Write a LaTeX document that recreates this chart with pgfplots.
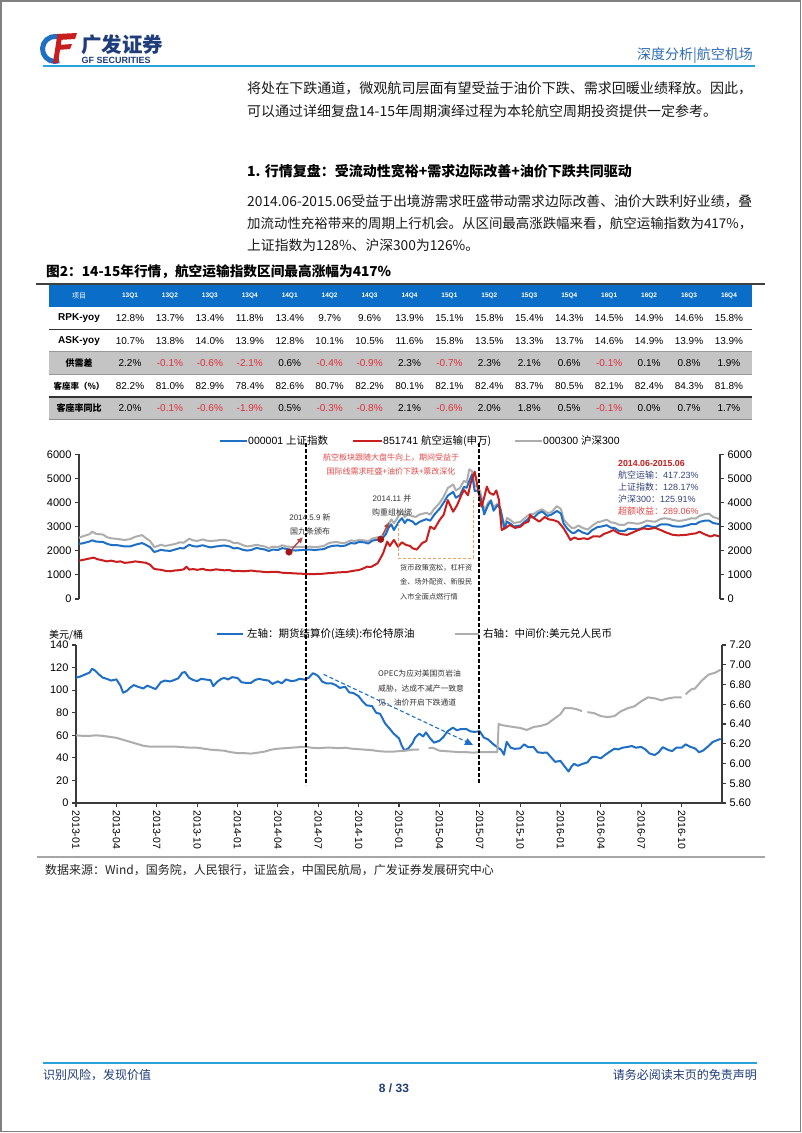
\documentclass[border=0pt]{standalone}
\usepackage{pgfplots}
\pgfplotsset{compat=1.18}
\usepackage{graphicx}
\usepackage{fontspec}
\setmainfont{Liberation Sans}
\newfontfamily\cjk{Noto Sans CJK SC}
\usetikzlibrary{arrows.meta}
\definecolor{gfblue}{HTML}{1F6FC5}
\definecolor{gfred}{HTML}{C81E1E}
\definecolor{gfgray}{HTML}{ADADAD}
\definecolor{axisc}{HTML}{3A3A3A}
\definecolor{hdrblue}{HTML}{0A6EC8}
\definecolor{rowgray}{HTML}{C4C4C4}
\definecolor{negred}{HTML}{E0303C}
\definecolor{navy}{HTML}{1F3D7A}
\definecolor{lineblue}{HTML}{2AA3DC}
\definecolor{hdtext}{HTML}{2F6DB0}
\definecolor{annred}{HTML}{E04848}
\definecolor{boxnavy}{HTML}{34437A}
\definecolor{dotred}{HTML}{A51515}
\definecolor{boxorange}{HTML}{F0A060}
\definecolor{arrowc}{HTML}{B04545}
\newcommand\fs[1]{\fontsize{#1}{#1}\selectfont}
\newcommand\negv[1]{\textcolor{negred}{#1}}
\pgfplotsset{gfax/.style={scale only axis, tick align=outside, major tick length=4pt,
  axis line style={axisc, line width=1.2pt, -}, tick style={axisc, line width=1.1pt},
  ticklabel style={font=\fs{11}, text=black},
  /pgf/number format/assume math mode=true, /pgf/number format/1000 sep={},
  scaled ticks=false}}
\begin{document}
\begin{tikzpicture}
\begin{scope}[x=1pt,y=-1pt]
\path[use as bounding box] (0,0) rectangle (802,1133);
\fill[white] (0,0) rectangle (802,1133);
\draw[black!50, line width=1.6pt] (1,1) rectangle (800.5,1131.5);
% logo
\draw[gfblue, line width=5pt] (59.3,60.7) arc[start angle=70, end angle=290, radius=12.5];
\fill[gfred] (57,34) -- (77,33) -- (75,39) -- (58.5,40) -- cycle;
\fill[gfred] (58,45) -- (72,44) -- (70,49) -- (57,50) -- cycle;
\fill[gfred] (57,37) -- (62,37) -- (58,63) -- (53,63) -- cycle;
\node[anchor=west, inner sep=0, text=navy] at (81,45) {\cjk\bfseries\fs{20.5}广发证券};
\node[anchor=west, inner sep=0, text=navy] at (81.5,60.5) {\bfseries\fs{9}GF SECURITIES};
\node[anchor=east, inner sep=0, text=hdtext] at (753,55) {\cjk\fs{14}深度分析|航空机场};
\draw[lineblue, line width=1.5pt] (43,66) -- (755,66);
% body text
\node[anchor=west, inner sep=0, text=black!90] at (247,88) {\resizebox{505pt}{!}{\cjk\fs{14}将处在下跌通道，微观航司层面有望受益于油价下跌、需求回暖业绩释放。因此，}};
\node[anchor=west, inner sep=0, text=black!90] at (247,111) {\cjk\fs{14}可以通过详细复盘14-15年周期演绎过程为本轮航空周期投资提供一定参考。};
\node[anchor=west, inner sep=0, text=black] at (247,171) {\cjk\bfseries\fs{14}1. 行情复盘：受流动性宽裕+需求边际改善+油价下跌共同驱动};
\node[anchor=west, inner sep=0, text=black!90] at (247,201) {\resizebox{505pt}{!}{\cjk\fs{14}2014.06-2015.06受益于出境游需求旺盛带动需求边际改善、油价大跌利好业绩，叠}};
\node[anchor=west, inner sep=0, text=black!90] at (247,223) {\resizebox{505pt}{!}{\cjk\fs{14}加流动性充裕带来的周期上行机会。从区间最高涨跌幅来看，航空运输指数为417\%，}};
\node[anchor=west, inner sep=0, text=black!90] at (247,245) {\resizebox{232pt}{!}{\cjk\fs{14}上证指数为128\%、沪深300为126\%。}};
\node[anchor=west, inner sep=0, text=black] at (46,272) {\resizebox{345pt}{!}{\cjk\bfseries\fs{14}图2：14-15年行情，航空运输指数区间最高涨幅为417\%}};
% table
\fill[hdrblue] (49,284) rectangle (752,307);
\fill[rowgray] (49,351.5) rectangle (752,374);
\fill[rowgray] (49,397) rectangle (752,419.5);
\draw[black!80, line width=1.3pt] (49,329.5)--(752,329.5);
\draw[black!40, line width=1pt] (49,351.5)--(752,351.5);
\draw[black!40, line width=1pt] (49,374)--(752,374);
\draw[black!80, line width=1.3pt] (49,397)--(752,397);
\draw[black!45, line width=1pt] (49,419.5)--(752,419.5);
\draw[black!75, line width=1.3pt] (36,284)--(765,284);
\node[text=white] at (79,295.5) {\cjk\fs{7}项目};
\foreach \v [count=\i] in {13Q1,13Q2,13Q3,13Q4,14Q1,14Q2,14Q3,14Q4,15Q1,15Q2,15Q3,15Q4,16Q1,16Q2,16Q3,16Q4}
  \node[text=white] at ({130+(\i-1)*39.93},295.5) {\bfseries\fs{6.5}\v};
\node at (79,318) {\bfseries\fs{10}RPK-yoy};
\node at (79,341) {\bfseries\fs{10}ASK-yoy};
\node at (79,363) {\cjk\bfseries\fs{9}供需差};
\node at (79,386) {\cjk\bfseries\fs{8.5}客座率（\%）};
\node at (79,408) {\cjk\bfseries\fs{9}客座率同比};
\foreach \v [count=\i] in {12.8\%,13.7\%,13.4\%,11.8\%,13.4\%,9.7\%,9.6\%,13.9\%,15.1\%,15.8\%,15.4\%,14.3\%,14.5\%,14.9\%,14.6\%,15.8\%}
  \node at ({130+(\i-1)*39.93},318) {\fs{10}\v};
\foreach \v [count=\i] in {10.7\%,13.8\%,14.0\%,13.9\%,12.8\%,10.1\%,10.5\%,11.6\%,15.8\%,13.5\%,13.3\%,13.7\%,14.6\%,14.9\%,13.9\%,13.9\%}
  \node at ({130+(\i-1)*39.93},341) {\fs{10}\v};
\foreach \v [count=\i] in {2.2\%,\negv{-0.1\%},\negv{-0.6\%},\negv{-2.1\%},0.6\%,\negv{-0.4\%},\negv{-0.9\%},2.3\%,\negv{-0.7\%},2.3\%,2.1\%,0.6\%,\negv{-0.1\%},0.1\%,0.8\%,1.9\%}
  \node at ({130+(\i-1)*39.93},363) {\fs{10}\v};
\foreach \v [count=\i] in {82.2\%,81.0\%,82.9\%,78.4\%,82.6\%,80.7\%,82.2\%,80.1\%,82.1\%,82.4\%,83.7\%,80.5\%,82.1\%,82.4\%,84.3\%,81.8\%}
  \node at ({130+(\i-1)*39.93},386) {\fs{10}\v};
\foreach \v [count=\i] in {2.0\%,\negv{-0.1\%},\negv{-0.6\%},\negv{-1.9\%},0.5\%,\negv{-0.3\%},\negv{-0.8\%},2.1\%,\negv{-0.6\%},2.0\%,1.8\%,0.5\%,\negv{-0.1\%},0.0\%,0.7\%,1.7\%}
  \node at ({130+(\i-1)*39.93},408) {\fs{10}\v};
% source and footer
\draw[black!35, line width=2pt] (37,857)--(765,857);
\node[anchor=west, inner sep=0, text=black!85] at (45,870) {\cjk\fs{12}数据来源：Wind，国务院，人民银行，证监会，中国民航局，广发证券发展研究中心};
\draw[lineblue, line width=1.5pt] (43,1063) -- (757,1063);
\node[anchor=west, inner sep=0, text=navy] at (43,1075) {\cjk\fs{12}识别风险，发现价值};
\node[anchor=east, inner sep=0, text=navy] at (757,1075) {\cjk\fs{12}请务必阅读末页的免责声明};
\node[inner sep=0, text=navy] at (394,1088) {\bfseries\fs{12}8 / 33};
\end{scope}

% ---------------- top chart ----------------
\begin{axis}[gfax, at={(79pt,-599pt)}, anchor=south west, width=641pt, height=144.7pt,
  xmin=0.22, xmax=47.81, ymin=0, ymax=6000, axis x line=none, axis y line*=left,
  ytick={0,1000,...,6000}]
\addplot[gfgray, line width=2pt, line join=round] coordinates {
(0.1,2518)(0.5,2600)(1.0,2688)(1.2,2790)(1.5,2700)(2.0,2673)(2.3,2560)(2.6,2520)(3.0,2495)(3.3,2470)(3.6,2450)(4.0,2480)(4.4,2580)(4.9,2650)(5.2,2520)(5.5,2400)(5.8,2160)(6.0,2182)(6.3,2250)(6.6,2200)(7.0,2240)(7.4,2290)(7.7,2350)(8.0,2335)(8.4,2500)(8.7,2430)(9.0,2410)(9.4,2470)(9.7,2420)(10.0,2410)(10.4,2420)(10.7,2450)(11.0,2450)(11.4,2410)(11.7,2320)(12.0,2330)(12.4,2230)(12.7,2180)(13.0,2200)(13.4,2250)(13.7,2210)(14.0,2180)(14.3,2110)(14.6,2170)(15.0,2150)(15.3,2230)(15.6,2180)(16.0,2160)(16.3,2150)(16.7,2160)(17.0,2160)(17.4,2170)(17.7,2150)(18.0,2165)(18.4,2200)(18.7,2300)(19.0,2350)(19.4,2360)(19.7,2320)(20.0,2330)(20.4,2430)(20.7,2400)(21.0,2450)(21.4,2430)(21.7,2400)(22.0,2510)(22.4,2560)(22.7,2600)(23.0,2810)(23.2,3100)(23.4,3300)(23.6,3150)(23.8,3300)(24.0,3530)(24.2,3650)(24.4,3400)(24.6,3500)(25.0,3434)(25.2,3400)(25.5,3500)(26.0,3572)(26.3,3500)(26.6,3750)(27.0,3986)(27.3,4250)(27.6,4600)(28.0,4749)(28.2,4500)(28.5,4600)(28.8,4900)(29.0,4840)(29.2,5380)(29.4,5300)(29.6,4700)(29.8,4650)(30.0,4473)(30.2,4000)(30.3,3660)(30.6,4000)(30.8,4100)(31.0,3816)(31.3,3950)(31.5,3750)(31.8,3025)(32.0,3366)(32.3,3250)(32.5,3150)(33.0,3202)(33.3,3350)(33.7,3520)(34.0,3534)(34.3,3650)(34.6,3720)(35.0,3567)(35.3,3600)(35.7,3850)(36.0,3731)(36.2,3300)(36.5,3100)(36.8,2950)(37.0,2946)(37.3,3050)(37.6,2950)(38.0,2877)(38.3,3030)(38.7,3180)(39.0,3218)(39.4,3290)(39.7,3180)(40.0,3156)(40.3,3080)(40.7,3070)(41.0,3170)(41.3,3150)(41.7,3120)(42.0,3154)(42.4,3250)(42.7,3220)(43.0,3203)(43.4,3320)(43.7,3350)(44.0,3327)(44.3,3280)(44.7,3240)(45.0,3253)(45.4,3300)(45.7,3350)(46.0,3336)(46.3,3450)(46.7,3520)(47.0,3538)(47.3,3400)(47.6,3350)(47.8,3310)};
\addplot[gfblue, line width=2pt, line join=round] coordinates {
(0.1,2276)(0.5,2310)(1.0,2385)(1.2,2434)(1.5,2380)(2.0,2365)(2.3,2290)(2.6,2240)(3.0,2237)(3.3,2210)(3.6,2180)(4.0,2178)(4.4,2250)(4.9,2320)(5.2,2240)(5.5,2150)(5.8,1950)(6.0,1979)(6.3,2040)(6.6,2010)(7.0,1994)(7.4,2060)(7.7,2110)(8.0,2098)(8.4,2250)(8.7,2190)(9.0,2175)(9.4,2230)(9.7,2180)(10.0,2141)(10.4,2180)(10.7,2200)(11.0,2220)(11.4,2180)(11.7,2100)(12.0,2116)(12.4,2040)(12.7,2010)(13.0,2030)(13.4,2120)(13.7,2080)(14.0,2056)(14.3,1990)(14.6,2050)(15.0,2033)(15.3,2110)(15.6,2080)(16.0,2026)(16.3,2010)(16.7,2030)(17.0,2039)(17.4,2050)(17.7,2030)(18.0,2048)(18.4,2070)(18.7,2150)(19.0,2200)(19.4,2220)(19.7,2190)(20.0,2217)(20.4,2320)(20.7,2300)(21.0,2363)(21.4,2350)(21.7,2300)(22.0,2420)(22.4,2460)(22.7,2490)(23.0,2683)(23.2,2950)(23.4,3100)(23.6,2860)(23.8,3050)(24.0,3235)(24.2,3350)(24.4,3150)(24.6,3300)(25.0,3210)(25.2,3080)(25.5,3200)(26.0,3310)(26.3,3250)(26.6,3500)(27.0,3748)(27.3,4000)(27.6,4287)(28.0,4441)(28.2,4200)(28.5,4300)(28.8,4650)(29.0,4611)(29.2,4900)(29.4,5166)(29.6,4478)(29.8,4500)(30.0,4277)(30.2,3800)(30.3,3507)(30.6,3900)(30.8,4070)(31.0,3663)(31.3,3900)(31.5,3750)(31.8,2927)(32.0,3206)(32.3,3100)(32.5,3005)(33.0,3053)(33.3,3200)(33.7,3380)(34.0,3383)(34.3,3550)(34.6,3630)(35.0,3445)(35.3,3500)(35.7,3651)(36.0,3539)(36.2,3125)(36.5,2900)(36.8,2750)(37.0,2738)(37.3,2860)(37.6,2760)(38.0,2688)(38.3,2850)(38.7,2980)(39.0,3004)(39.4,3060)(39.7,2960)(40.0,2938)(40.3,2830)(40.7,2810)(41.0,2917)(41.3,2900)(41.7,2890)(42.0,2930)(42.4,3050)(42.7,3000)(43.0,2979)(43.4,3090)(43.7,3100)(44.0,3085)(44.3,3020)(44.7,3000)(45.0,3005)(45.4,3060)(45.7,3110)(46.0,3100)(46.3,3200)(46.7,3250)(47.0,3250)(47.3,3150)(47.6,3120)(47.8,3104)};
\addplot[gfred, line width=2pt, line join=round] coordinates {
(0.1,1577)(0.5,1620)(1.0,1680)(1.3,1715)(1.6,1650)(2.0,1600)(2.3,1560)(2.6,1590)(3.0,1540)(3.3,1560)(3.6,1500)(4.0,1520)(4.4,1560)(4.8,1530)(5.2,1500)(5.5,1420)(5.8,1250)(6.0,1230)(6.3,1210)(6.7,1160)(7.0,1150)(7.3,1180)(7.7,1200)(8.0,1230)(8.2,1340)(8.4,1220)(8.7,1240)(9.0,1210)(9.4,1250)(9.7,1200)(10.0,1190)(10.4,1230)(10.7,1210)(11.0,1190)(11.4,1200)(11.7,1150)(12.0,1170)(12.4,1150)(12.7,1160)(13.0,1180)(13.4,1150)(13.7,1140)(14.0,1120)(14.3,1110)(14.6,1130)(15.0,1120)(15.3,1090)(15.6,1080)(16.0,1070)(16.3,1060)(16.7,1050)(17.0,1040)(17.4,1030)(17.7,1035)(18.0,1040)(18.4,1050)(18.7,1070)(19.0,1080)(19.4,1100)(19.7,1110)(20.0,1110)(20.4,1150)(20.7,1180)(21.0,1200)(21.3,1260)(21.6,1340)(21.9,1330)(22.2,1420)(22.4,1490)(22.6,1690)(22.8,1900)(23.1,2380)(23.3,2200)(23.6,2450)(23.9,2170)(24.2,2350)(24.5,2240)(24.8,2200)(25.0,2100)(25.3,2050)(25.7,2320)(26.0,2400)(26.3,3000)(26.6,2900)(27.0,3280)(27.3,3500)(27.6,4100)(28.0,3620)(28.3,3900)(28.6,4300)(28.8,4520)(29.1,4300)(29.3,4800)(29.6,5280)(29.8,4700)(29.9,4400)(30.1,3830)(30.3,4200)(30.5,4660)(30.7,4400)(31.0,4320)(31.2,4500)(31.4,4100)(31.6,2860)(31.9,2950)(32.2,3070)(32.6,2950)(33.0,3000)(33.3,3150)(33.6,3210)(33.7,3490)(34.0,3350)(34.4,3210)(34.8,3400)(35.1,3300)(35.4,3280)(35.8,3200)(36.2,2930)(36.5,2650)(36.7,2450)(37.0,2550)(37.3,2480)(37.7,2520)(38.0,2480)(38.4,2600)(38.9,2590)(39.2,2700)(39.6,2780)(39.9,2860)(40.3,2720)(40.6,2680)(40.9,2660)(41.3,2750)(41.7,2850)(42.1,2930)(42.5,2900)(43.0,2950)(43.4,2860)(43.8,2760)(44.3,2660)(44.7,2640)(45.3,2660)(45.7,2700)(46.0,2720)(46.3,2790)(46.6,2700)(47.1,2590)(47.4,2650)(47.8,2590)};
\addplot[only marks, mark=*, mark size=3.3pt, dotred] coordinates {(15.81,1949)(22.62,2475)};
\draw[arrowc, line width=1.4pt, -{Latex[length=6pt,width=6pt]}] (axis cs:16.04,2073) -- (axis cs:16.85,2570);
\draw[arrowc, line width=1.4pt, -{Latex[length=6pt,width=6pt]}] (axis cs:22.75,2650) -- (axis cs:23.24,3190);
\end{axis}
\begin{axis}[gfax, at={(79pt,-599pt)}, anchor=south west, width=641pt, height=144.7pt,
  xmin=0.22, xmax=47.81, ymin=0, ymax=6000, axis x line=none, axis y line*=right,
  ytick={0,1000,...,6000}]
\end{axis}

% ---------------- bottom chart ----------------
\begin{axis}[gfax, at={(76pt,-803pt)}, anchor=south west, width=646pt, height=158pt,
  xmin=0, xmax=48, ymin=0, ymax=140, axis x line*=bottom, axis y line*=left,
  ytick={0,20,...,140}, xtick={0,3,...,45},
  xticklabels={2013-01,2013-04,2013-07,2013-10,2014-01,2014-04,2014-07,2014-10,2015-01,2015-04,2015-07,2015-10,2016-01,2016-04,2016-07,2016-10},
  xticklabel style={rotate=-90, anchor=west, font=\fs{10.5}}]
\addplot[gfblue, line width=2pt, line join=round] coordinates {
(0.0,111.1)(0.3,112.0)(0.6,113.5)(1.0,115.5)(1.2,118.9)(1.4,117.5)(1.7,114.0)(2.0,111.0)(2.3,110.0)(2.6,108.5)(3.0,109.5)(3.3,104.0)(3.5,97.7)(3.8,99.5)(4.0,102.0)(4.3,104.5)(4.6,103.0)(5.0,101.5)(5.3,104.0)(5.6,102.5)(5.9,101.0)(6.0,102.2)(6.3,107.0)(6.6,108.5)(7.0,107.7)(7.3,109.0)(7.6,110.5)(7.9,115.5)(8.1,116.0)(8.4,111.0)(8.7,109.0)(9.0,108.0)(9.3,110.0)(9.6,109.5)(10.0,108.8)(10.2,103.5)(10.5,107.5)(10.8,110.0)(11.0,110.8)(11.3,109.5)(11.6,111.5)(12.0,110.8)(12.3,107.0)(12.6,106.5)(13.0,106.4)(13.3,109.0)(13.6,110.0)(14.0,109.0)(14.3,108.5)(14.6,105.5)(15.0,107.8)(15.3,106.0)(15.6,109.5)(16.0,108.0)(16.3,108.5)(16.6,110.0)(17.0,109.4)(17.3,111.0)(17.6,115.0)(17.8,114.0)(18.0,112.4)(18.3,107.5)(18.6,106.0)(19.0,106.0)(19.3,104.5)(19.6,102.0)(20.0,103.0)(20.3,98.0)(20.6,97.5)(21.0,94.7)(21.3,90.0)(21.6,86.5)(22.0,85.9)(22.3,80.0)(22.6,79.0)(22.9,72.0)(23.0,70.0)(23.3,66.0)(23.6,61.5)(24.0,57.3)(24.2,51.0)(24.4,46.6)(24.7,48.5)(25.0,53.0)(25.2,58.0)(25.5,61.5)(25.8,59.0)(26.0,62.6)(26.3,57.5)(26.6,53.5)(27.0,55.1)(27.3,58.5)(27.6,63.5)(28.0,66.8)(28.3,64.5)(28.6,65.5)(29.0,65.6)(29.3,63.5)(29.6,63.0)(30.0,63.6)(30.3,58.0)(30.6,56.5)(31.0,52.2)(31.3,49.5)(31.6,47.0)(31.8,42.7)(32.0,54.2)(32.3,49.0)(32.6,48.0)(33.0,48.4)(33.3,52.0)(33.6,49.5)(34.0,49.6)(34.3,45.0)(34.6,44.5)(35.0,44.6)(35.3,40.5)(35.6,36.5)(36.0,37.3)(36.3,32.5)(36.6,27.9)(36.8,32.0)(37.0,34.7)(37.3,33.0)(37.6,34.5)(38.0,36.0)(38.3,40.5)(38.6,41.0)(39.0,39.6)(39.3,42.5)(39.6,45.0)(40.0,48.1)(40.3,47.5)(40.6,49.0)(41.0,49.7)(41.3,50.5)(41.6,49.0)(42.0,49.7)(42.3,47.5)(42.6,44.0)(43.0,42.5)(43.3,45.0)(43.6,49.5)(44.0,47.0)(44.3,46.0)(44.6,49.0)(45.0,49.0)(45.3,52.0)(45.6,50.0)(46.0,48.3)(46.3,45.0)(46.6,46.5)(47.0,50.5)(47.3,54.0)(47.6,55.5)(47.9,56.8)};
\draw[gfblue, line width=1.1pt, dash pattern=on 4pt off 2.5pt, -{Triangle[length=8pt,width=7pt]}] (axis cs:18.4,114) -- (axis cs:29.5,51.5);
\end{axis}
\begin{axis}[gfax, at={(76pt,-803pt)}, anchor=south west, width=646pt, height=158pt,
  xmin=0, xmax=48, ymin=5.6, ymax=7.2, axis x line=none, axis y line*=right,
  ytick={5.6,5.8,6.0,6.2,6.4,6.6,6.8,7.0,7.2}, unbounded coords=jump,
  yticklabel style={/pgf/number format/.cd, fixed, fixed zerofill, precision=2}]
\addplot[gfgray, line width=2pt, line join=round] coordinates {
(0.0,6.285)(0.5,6.28)(1.0,6.28)(1.5,6.285)(2.0,6.28)(2.5,6.27)(3.0,6.26)(3.5,6.24)(4.0,6.22)(4.5,6.20)(5.0,6.18)(5.5,6.17)(6.0,6.17)(6.5,6.17)(7.0,6.17)(7.5,6.17)(8.0,6.165)(8.5,6.16)(9.0,6.16)(9.5,6.15)(10.0,6.14)(10.5,6.135)(11.0,6.13)(11.5,6.115)(12.0,6.105)(12.5,6.105)(13.0,6.10)(13.5,6.11)(14.0,6.12)(14.5,6.14)(15.0,6.15)(15.5,6.155)(16.0,6.16)(16.5,6.165)(17.0,6.17)(17.5,6.16)(18.0,6.155)(18.5,6.16)(19.0,6.16)(19.5,6.155)(20.0,6.16)(20.5,6.15)(21.0,6.145)(21.5,6.14)(22.0,6.135)(22.5,6.125)(23.0,6.12)(23.5,6.12)(24.0,6.125)(24.5,6.13)(25.0,6.14)(25.5,6.14)(25.8,nan)(26.2,6.155)(26.5,6.16)(27.0,6.13)(27.5,6.125)(28.0,6.12)(28.5,6.115)(29.0,6.115)(29.5,6.11)(30.0,6.115)(30.5,6.115)(31.0,6.116)(31.3,6.116)(31.35,6.23)(31.4,6.40)(31.6,6.39)(32.0,6.38)(32.5,6.37)(33.0,6.36)(33.5,6.34)(34.0,6.37)(34.5,6.38)(35.0,6.40)(35.5,6.45)(36.0,6.50)(36.3,6.56)(36.8,6.56)(37.2,6.55)(37.6,6.53)(37.8,nan)(38.0,6.52)(38.5,6.51)(39.0,6.48)(39.5,6.47)(40.0,6.48)(40.5,6.53)(41.0,6.56)(41.5,6.58)(42.0,6.63)(42.5,6.67)(43.0,6.66)(43.5,6.64)(44.0,6.66)(44.5,6.67)(45.0,6.67)(45.1,nan)(45.3,6.70)(45.7,6.75)(46.0,6.76)(46.5,6.84)(47.0,6.90)(47.5,6.92)(47.9,6.95)};
\end{axis}

% ---------------- overlays ----------------
\begin{scope}[x=1pt,y=-1pt]
\draw[black, line width=1.2pt, dash pattern=on 3.5pt off 2.5pt] (306,443)--(306,785);
\draw[black, line width=1.2pt, dash pattern=on 3.5pt off 2.5pt] (479,443)--(479,783);
% top legend
\draw[gfblue, line width=2.2pt] (220,441)--(247,441);
\node[anchor=west, inner sep=0] at (248,441) {\fs{10.5}000001 {\cjk 上证指数}};
\draw[gfred, line width=2.2pt] (353,441)--(382,441);
\node[anchor=west, inner sep=0] at (383,441) {\fs{10.5}851741 {\cjk 航空运输(申万)}};
\draw[gfgray, line width=2.2pt] (515,441)--(542,441);
\node[anchor=west, inner sep=0] at (543,441) {\fs{10.5}000300 {\cjk 沪深}300};
% top annotations
\node[align=center, text=annred, inner sep=0] at (391,464) {\cjk\fs{8}航空板块跟随大盘牛向上，期间受益于\\[2pt]\cjk\fs{8}国际线需求旺盛+油价下跌+票改深化};
\node[align=center, text=black!80, inner sep=0] at (392,505.5) {\fs{8}2014.11 {\cjk 并}\\[2pt]\cjk\fs{8}购重组松绑};
\node[align=center, text=black!80, inner sep=0] at (310,524) {\fs{8}2014.5.9 {\cjk 新}\\[2pt]\cjk\fs{8}国九条颁布};
\draw[boxorange, line width=0.9pt, dash pattern=on 3pt off 2pt] (398,523)--(398,558)--(473,558)--(473,497);
\node[anchor=north west, align=left, text=black!80, inner sep=0] at (400,564) {\cjk\fs{7.2}货币政策宽松，杠杆资\\[2.5pt]\cjk\fs{7.2}金、场外配资、新股民\\[2.5pt]\cjk\fs{7.2}入市全面点燃行情};
\node[anchor=west, inner sep=0, text=gfred] at (618,463) {\bfseries\fs{8.8}2014.06-2015.06};
\node[anchor=west, inner sep=0, text=boxnavy] at (618,475.5) {\fs{9}{\cjk 航空运输：}417.23\%};
\node[anchor=west, inner sep=0, text=boxnavy] at (618,487.5) {\fs{9}{\cjk 上证指数：}128.17\%};
\node[anchor=west, inner sep=0, text=boxnavy] at (618,499.5) {\fs{9}{\cjk 沪深}300{\cjk ：}125.91\%};
\node[anchor=west, inner sep=0, text=annred] at (618,511.5) {\fs{9}{\cjk 超额收益：}289.06\%};
% bottom legend
\node[anchor=west, inner sep=0] at (49,635) {\cjk\fs{10}美元/桶};
\draw[gfblue, line width=2.2pt] (217,634)--(243,634);
\node[anchor=west, inner sep=0] at (247,634) {\cjk\fs{10.5}左轴：期货结算价(连续):布伦特原油};
\draw[gfgray, line width=2.2pt] (455,634)--(479,634);
\node[anchor=west, inner sep=0] at (483,634) {\cjk\fs{10.5}右轴：中间价:美元兑人民币};
\node[anchor=north west, align=left, text=black!80, inner sep=0] at (378,670) {\cjk\fs{7.8}OPEC为应对美国页岩油\\[2.5pt]\cjk\fs{7.8}威胁，达成不减产一致意\\[2.5pt]\cjk\fs{7.8}见，油价开启下跌通道};
\end{scope}
\end{tikzpicture}
\end{document}
